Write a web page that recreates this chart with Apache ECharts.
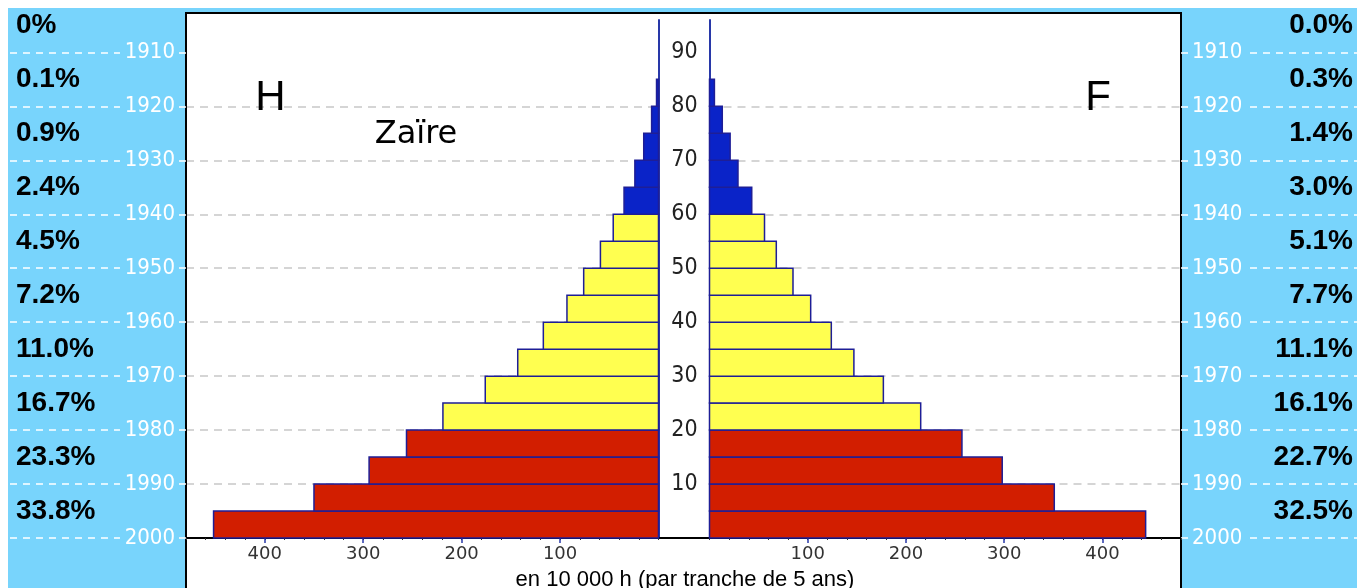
<!DOCTYPE html>
<html><head><meta charset="utf-8">
<script src="https://cdn.jsdelivr.net/npm/echarts@6/dist/echarts.min.js"></script>
<style>html,body{margin:0;padding:0;background:#fff}#c{width:1357px;height:588px}</style>
</head><body><div id="c"></div>
<script>
// ---- data ----
const ageStarts = [0, 5, 10, 15, 20, 25, 30, 35, 40, 45, 50, 55, 60, 65, 70, 75, 80];
const male   = [452, 350, 294, 256, 219, 176, 143, 117, 93, 76, 59, 46, 35, 24, 15, 7, 2];
const female = [444, 351, 298, 257, 215, 177, 147, 124, 103, 85, 68, 56, 43, 29, 21, 13, 5];
const ageStep = 5;
const decadeAges = [0, 10, 20, 30, 40, 50, 60, 70, 80, 90];
const yearLabels = ['2000', '1990', '1980', '1970', '1960', '1950', '1940', '1930', '1920', '1910'];
const ageTickLabels = [10, 20, 30, 40, 50, 60, 70, 80, 90];
const pctAges = [5, 15, 25, 35, 45, 55, 65, 75, 85, 95];
const pctH = ['33.8%', '23.3%', '16.7%', '11.0%', '7.2%', '4.5%', '2.4%', '0.9%', '0.1%', '0%'];
const pctF = ['32.5%', '22.7%', '16.1%', '11.1%', '7.7%', '5.1%', '3.0%', '1.4%', '0.3%', '0.0%'];
const xTickLabels = [100, 200, 300, 400];
const ageGroups = [
  { from: 0, to: 20, color: '#d21e00' },
  { from: 20, to: 60, color: '#ffff50' },
  { from: 60, to: 200, color: '#0a23c8' }
];
const AGE_MAX = 96, X_MAX = 480;

// ---- styles ----
const BG = '#78d4fc', BAR_BORDER = '#1e1e96', AXIS_BLUE = '#2838a8';
const narrow = '"DejaVu Sans Condensed", "Liberation Sans", sans-serif';

function colorFor(a) {
  for (const g of ageGroups) if (a >= g.from && a < g.to) return g.color;
  return '#000';
}
function renderBar(params, api) {
  const v = api.value(0), a = api.value(1);
  const p0 = api.coord([0, a]);
  const p1 = api.coord([v, a + ageStep]);
  return {
    type: 'rect',
    shape: { x: Math.min(p0[0], p1[0]), y: Math.min(p0[1], p1[1]),
             width: Math.abs(p1[0] - p0[0]), height: Math.abs(p1[1] - p0[1]) },
    style: { fill: colorFor(a), stroke: BAR_BORDER, lineWidth: 1.5 }
  };
}
const yearFmt = v => yearLabels[decadeAges.indexOf(v)] || '';
const pctFmt = arr => v => arr[pctAges.indexOf(v)] || '';

const G = { top: 20, bottom: 50, outerBoundsMode: 'none' };
const grids = [
  Object.assign({ left: 186, right: 1357 - 658.5 }, G),
  Object.assign({ left: 658.5, right: 1357 - 709.5 }, G),
  Object.assign({ left: 709.5, right: 1357 - 1181 }, G),
  Object.assign({ left: 10, right: 1357 - 120 }, G),
  Object.assign({ left: 1250, right: 0 }, G)
];

function xMain(grid, inverse) {
  return {
    type: 'value', gridIndex: grid, position: 'bottom', inverse: inverse, min: 0, max: X_MAX, interval: 20,
    axisLine: { show: true, onZero: false, lineStyle: { color: '#000', width: 2 } },
    axisTick: { show: true, length: 2, lineStyle: { color: '#333', width: 1 } },
    splitLine: { show: false },
    axisLabel: { show: true, customValues: xTickLabels, margin: 7,
                 fontFamily: '"DejaVu Sans"', fontSize: 18, color: '#333' }
  };
}
function xMajor(grid, inverse) {
  return {
    type: 'value', gridIndex: grid, position: 'bottom', inverse: inverse, min: 0, max: X_MAX, interval: 20,
    axisLine: { show: false, onZero: false },
    axisTick: { show: true, customValues: xTickLabels, length: 5, lineStyle: { color: AXIS_BLUE, width: 1.5 } },
    splitLine: { show: false }, axisLabel: { show: false }
  };
}
const yBase = { type: 'value', min: 0, max: AGE_MAX, interval: 10 };
function yYears(grid, pos) {
  return Object.assign({}, yBase, {
    gridIndex: grid, position: pos,
    axisLine: { show: true, onZero: false, lineStyle: { color: '#000', width: 2 } },
    axisTick: { show: true, customValues: decadeAges, length: 7, lineStyle: { color: '#fff', width: 1.5 } },
    axisLabel: { show: true, customValues: decadeAges, formatter: yearFmt, margin: 11,
                 color: '#fff', fontFamily: narrow, fontSize: 22 },
    splitLine: { show: true, showMinLine: false, showMaxLine: false,
                 lineStyle: { color: '#c8c8c8', type: [8, 6], width: 1.5 } }
  });
}
function yCenter(grid, pos, withLabels) {
  return Object.assign({}, yBase, {
    gridIndex: grid, position: pos,
    axisLine: { show: true, onZero: false, lineStyle: { color: AXIS_BLUE, width: 2 } },
    axisTick: { show: false },
    axisLabel: withLabels ? { show: true, customValues: ageTickLabels, align: 'center', margin: 25,
                 color: '#222', fontFamily: narrow, fontSize: 23 } : { show: false },
    splitLine: { show: false }
  });
}
function yMargin(grid, pos, arr, margin) {
  return Object.assign({}, yBase, {
    gridIndex: grid, position: pos,
    axisLine: { show: false, onZero: false }, axisTick: { show: false },
    axisLabel: { show: true, inside: true, customValues: pctAges, formatter: pctFmt(arr), margin: margin,
                 padding: [0, 0, 6, 0],
                 color: '#000', fontFamily: '"Liberation Sans"', fontWeight: 'bold', fontSize: 28 },
    splitLine: { show: true, showMinLine: true, showMaxLine: false,
                 lineStyle: { color: '#fff', type: [7, 6], width: 1.5 } }
  });
}

const option = {
  animation: false,
  backgroundColor: 'transparent',
  grid: grids,
  xAxis: [
    xMain(0, true), xMajor(0, true),
    xMain(2, false), xMajor(2, false),
    { type: 'value', gridIndex: 1, position: 'bottom', min: 0, max: 1, axisLine: { show: true, onZero: false, lineStyle: { color: '#000', width: 2 } },
      axisTick: { show: false }, axisLabel: { show: false }, splitLine: { show: false } },
    { type: 'value', gridIndex: 3, show: false, min: 0, max: 1 },
    { type: 'value', gridIndex: 4, show: false, min: 0, max: 1 }
  ],
  yAxis: [
    yYears(0, 'left'),
    yCenter(0, 'right', false),
    yCenter(2, 'left', true),
    yYears(2, 'right'),
    Object.assign({}, yBase, { gridIndex: 1, show: false }),
    yMargin(3, 'left', pctH, 6),
    yMargin(4, 'right', pctF, 4)
  ],
  graphic: [
    { type: 'rect', z: -20, silent: true, shape: { x: 8, y: 8, width: 1349, height: 580 }, style: { fill: BG } },
    { type: 'rect', z: -19, silent: true, shape: { x: 186, y: 13, width: 995, height: 600 },
      style: { fill: '#fff', stroke: '#000', lineWidth: 2 } },
    { type: 'text', z: 10, x: 270.5, y: 98.5, style: { text: 'H', fill: '#000', font: '42px "Liberation Sans"', align: 'center', verticalAlign: 'middle' } },
    { type: 'text', z: 10, x: 1098, y: 98.5, style: { text: 'F', fill: '#000', font: '42px "Liberation Sans"', align: 'center', verticalAlign: 'middle' } },
    { type: 'text', z: 10, x: 416, y: 135, style: { text: 'Zaïre', fill: '#000', font: '32px "DejaVu Sans"', align: 'center', verticalAlign: 'middle' } },
    { type: 'text', z: 10, x: 685, y: 580, style: { text: 'en 10 000 h (par tranche de 5 ans)', fill: '#000', font: '22px "Liberation Sans"', align: 'center', verticalAlign: 'middle' } }
  ],
  series: [
    { type: 'custom', name: 'H', xAxisIndex: 0, yAxisIndex: 0, renderItem: renderBar, clip: false,
      encode: { x: 0, y: 1 }, data: ageStarts.map((a, i) => [male[i], a]) },
    { type: 'custom', name: 'F', xAxisIndex: 2, yAxisIndex: 2, renderItem: renderBar, clip: false,
      encode: { x: 0, y: 1 }, data: ageStarts.map((a, i) => [female[i], a]) }
  ]
};
const chart = echarts.init(document.getElementById('c'), null, { renderer: 'canvas' });
chart.setOption(option);
</script></body></html>
